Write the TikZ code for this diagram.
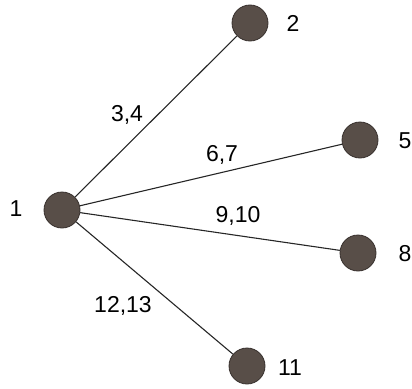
\documentclass[tikz,border=0pt]{standalone}
\usepackage{fontspec}
\setmainfont{Liberation Sans}
\definecolor{nodegray}{RGB}{88,78,72}
\definecolor{nodeedge}{RGB}{55,48,45}
\usetikzlibrary{positioning}

\tikzset{
  vtx/.style={circle, fill=nodegray, draw=nodeedge, line width=0.8pt, minimum size=36pt, inner sep=0pt},
  tag/.style={font=\fontsize{23}{26}\selectfont, inner sep=0pt},
  link/.style={line width=1.1pt, black!85}
}

\begin{document}
\begin{tikzpicture}[x=1pt, y=-1pt]
  \useasboundingbox (0,0) rectangle (412,388);

  % vertices
  \node[vtx] (v1) at (62,210) {};
  \node[vtx] (v2) at (250,23) {};
  \node[vtx] (v5) at (360,140) {};
  \node[vtx] (v8) at (358,253) {};
  \node[vtx] (v11) at (247,366) {};

  % vertex numbers
  \node[tag] (t1) at (16,209) {1};
  \node[tag] (t2) at (293,23) {2};
  \node[tag] (t5) at (405,141) {5};
  \node[tag] (t8) at (405,254) {8};
  \node[tag] (t11) at (290,368) {11};

  % edges
  \draw[link] (v1) -- (v2);
  \draw[link] (v1) -- (v5);
  \draw[link] (v1) -- (v8);
  \draw[link] (v1) -- (v11);

  % edge labels
  \node[tag] (e2) at (127,115) {3,4};
  \node[tag] (e5) at (222,155) {6,7};
  \node[tag] (e8) at (238,216) {9,10};
  \node[tag] (e11) at (123,306) {12,13};
\end{tikzpicture}
\end{document}
